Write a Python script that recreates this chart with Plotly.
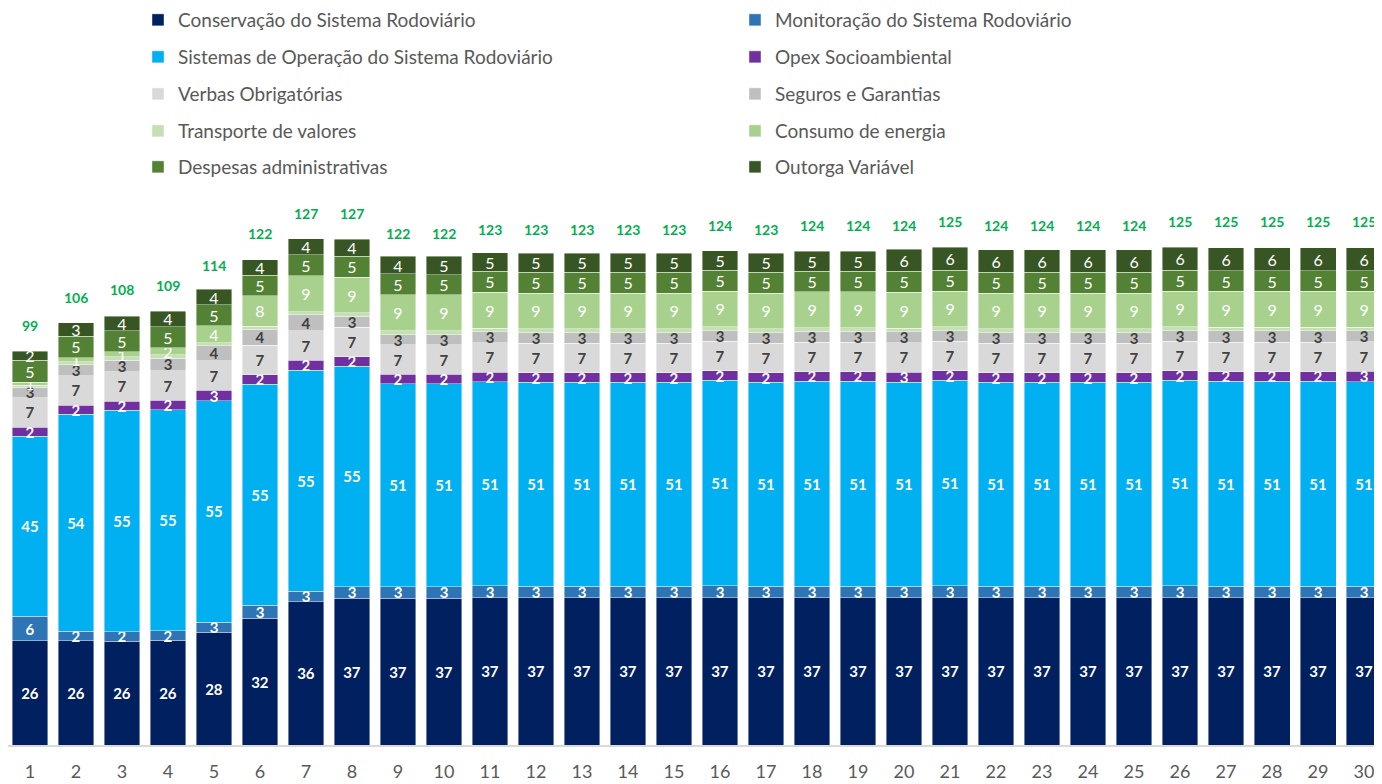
import plotly.graph_objects as go

periods = list(range(1, 31))
tick_labels = [str(p) for p in periods]

conservacao = [26.1, 26.1, 26.0, 26.2, 28.2, 31.7, 35.9, 36.8, 36.8, 36.8,
               36.9, 36.9, 36.9, 36.9, 36.9, 36.9, 36.9, 36.9, 36.9, 36.9,
               36.9, 36.9, 36.9, 36.9, 36.9, 36.9, 36.9, 36.9, 36.9, 36.9]
monitoracao = [6.1, 2.4, 2.4, 2.4, 2.6, 3.3, 2.6, 2.8, 2.8, 2.8,
               3.0, 2.8, 2.8, 2.8, 2.8, 3.0, 2.8, 2.8, 2.8, 2.8,
               3.0, 2.8, 2.8, 2.8, 2.8, 3.0, 2.8, 2.8, 2.8, 2.8]
sistemas_operacao = [45.1, 54.4, 55.4, 55.4, 55.4, 55.4, 55.4, 55.3, 50.9, 50.9,
                     51.1, 51.1, 51.1, 51.1, 51.1, 51.4, 51.1, 51.4, 51.4, 51.1,
                     51.4, 51.1, 51.1, 51.1, 51.1, 51.4, 51.4, 51.4, 51.4, 51.3]
opex_socioambiental = [2.3, 2.2, 2.3, 2.3, 2.6, 2.3, 2.4, 2.3, 2.3, 2.3,
                       2.4, 2.4, 2.4, 2.4, 2.4, 2.4, 2.4, 2.4, 2.4, 2.6,
                       2.4, 2.4, 2.4, 2.4, 2.4, 2.4, 2.4, 2.4, 2.4, 2.6]
verbas_obrigatorias = [7.4] * 30
seguros_garantias = [2.6, 2.7, 2.9, 3.2, 3.8, 4.0, 4.0, 2.8, 2.6, 2.6,
                     2.7, 2.7, 2.7, 2.7, 2.7, 2.7, 2.7, 2.7, 2.7, 2.7,
                     2.7, 2.7, 2.7, 2.7, 2.7, 2.7, 2.8, 2.8, 2.8, 2.7]
transporte_valores = [0.5, 0.8, 0.8, 0.8, 0.8, 0.8, 0.8, 0.8, 1.0, 1.0,
                      0.9, 0.9, 0.9, 0.9, 0.9, 0.9, 0.9, 0.9, 0.9, 0.9,
                      0.9, 0.9, 0.9, 0.9, 0.9, 0.9, 0.9, 0.9, 0.9, 0.9]
consumo_energia = [0.8, 1.0, 1.3, 1.8, 4.2, 7.6, 9.0, 8.9, 9.0, 9.0,
                   9.0, 9.0, 9.0, 9.0, 9.0, 9.0, 9.0, 9.0, 9.0, 9.0,
                   9.0, 9.0, 9.0, 9.0, 9.0, 9.0, 9.0, 9.0, 9.0, 9.0]
despesas_adm = [5.4, 5.4, 5.3, 5.3, 5.3, 5.2, 5.3, 5.3, 5.2, 5.0,
                5.2, 5.2, 5.2, 5.2, 5.2, 5.2, 5.2, 5.2, 5.2, 5.2,
                5.2, 5.2, 5.2, 5.2, 5.2, 5.2, 5.2, 5.2, 5.2, 5.2]
outorga_variavel = [2.3, 3.3, 3.6, 3.8, 3.8, 3.8, 4.0, 4.3, 4.4, 4.6,
                    4.7, 4.7, 4.7, 4.7, 4.7, 4.9, 4.7, 4.9, 4.9, 5.6,
                    5.8, 5.6, 5.6, 5.6, 5.6, 5.8, 5.8, 5.8, 5.8, 5.8]
totals = [99, 106, 108, 109, 114, 122, 127, 127, 122, 122,
          123, 123, 123, 123, 123, 124, 123, 124, 124, 124,
          125, 124, 124, 124, 124, 125, 125, 125, 125, 125]

series = [
    ("Conservação do Sistema Rodoviário", conservacao, "#002060", "#FFFFFF", "bold", True),
    ("Monitoração do Sistema Rodoviário", monitoracao, "#2E75B6", "#FFFFFF", "bold", True),
    ("Sistemas de Operação do Sistema Rodoviário", sistemas_operacao, "#00B0F0", "#FFFFFF", "bold", True),
    ("Opex Socioambiental", opex_socioambiental, "#7030A0", "#FFFFFF", "bold", True),
    ("Verbas Obrigatórias", verbas_obrigatorias, "#D9D9D9", "#404040", "bold", True),
    ("Seguros e Garantias", seguros_garantias, "#BFBFBF", "#404040", "bold", True),
    ("Transporte de valores", transporte_valores, "#C5E0B4", "#FFFFFF", "normal", False),
    ("Consumo de energia", consumo_energia, "#A9D18E", "#FFFFFF", "normal", True),
    ("Despesas administrativas", despesas_adm, "#548235", "#FFFFFF", "normal", True),
    ("Outorga Variável", outorga_variavel, "#375623", "#FFFFFF", "normal", True),
]

FONT = "Lato"
W, H = 1374, 776  # page body has an 8px margin

fig = go.Figure()
for i, (name, vals, color, tcolor, weight, show_text) in enumerate(series):
    row = i // 2
    legend_id = "legend" if row == 0 else f"legend{row + 1}"
    fig.add_trace(go.Bar(
        x=periods, y=vals, name=name,
        marker=dict(color=color, line=dict(color="rgba(255,255,255,0.7)", width=0.6)),
        texttemplate="%{y:.0f}" if show_text else "",
        textposition="inside", insidetextanchor="middle", textangle=0,
        constraintext="none",
        insidetextfont=dict(family=FONT, size=15 if weight == "bold" else 16,
                            color=tcolor, weight=weight),
        legend=legend_id, hoverinfo="name+y",
    ))

for p, t in zip(periods, totals):
    fig.add_annotation(x=p, y=t, text=str(t), showarrow=False, yanchor="middle",
                       yshift=24, font=dict(family=FONT, size=14, color="#00B050", weight="bold"))

row_y = [20, 57, 94, 131, 167]
legend_layout = {}
for r, yy in enumerate(row_y):
    key = "legend" if r == 0 else f"legend{r + 1}"
    legend_layout[key] = dict(
        orientation="h", xref="container", yref="container",
        x=130 / W, y=1 - (yy - 8) / H, xanchor="left", yanchor="middle",
        entrywidth=552, entrywidthmode="pixels", traceorder="normal",
        font=dict(family=FONT, size=19, color="#595959"),
        bgcolor="rgba(0,0,0,0)", itemclick=False, itemdoubleclick=False,
    )

fig.update_layout(
    width=W, height=H,
    margin=dict(l=0, r=0, t=182, b=39, pad=0),
    paper_bgcolor="white", plot_bgcolor="white",
    barmode="stack", bargap=0.22,
    showlegend=True,
    xaxis=dict(range=[0.522, 30.39], showgrid=False, zeroline=False,
               tickmode="array", tickvals=periods, ticktext=tick_labels,
               showline=True, linecolor="#D9D9D9", linewidth=1.5,
               ticks="", ticklabelstandoff=10,
               tickfont=dict(family=FONT, size=18, color="#595959")),
    yaxis=dict(range=[0, 139], showgrid=False, zeroline=False,
               showticklabels=False, showline=False),
    **legend_layout,
)

fig.write_html("out.html")
